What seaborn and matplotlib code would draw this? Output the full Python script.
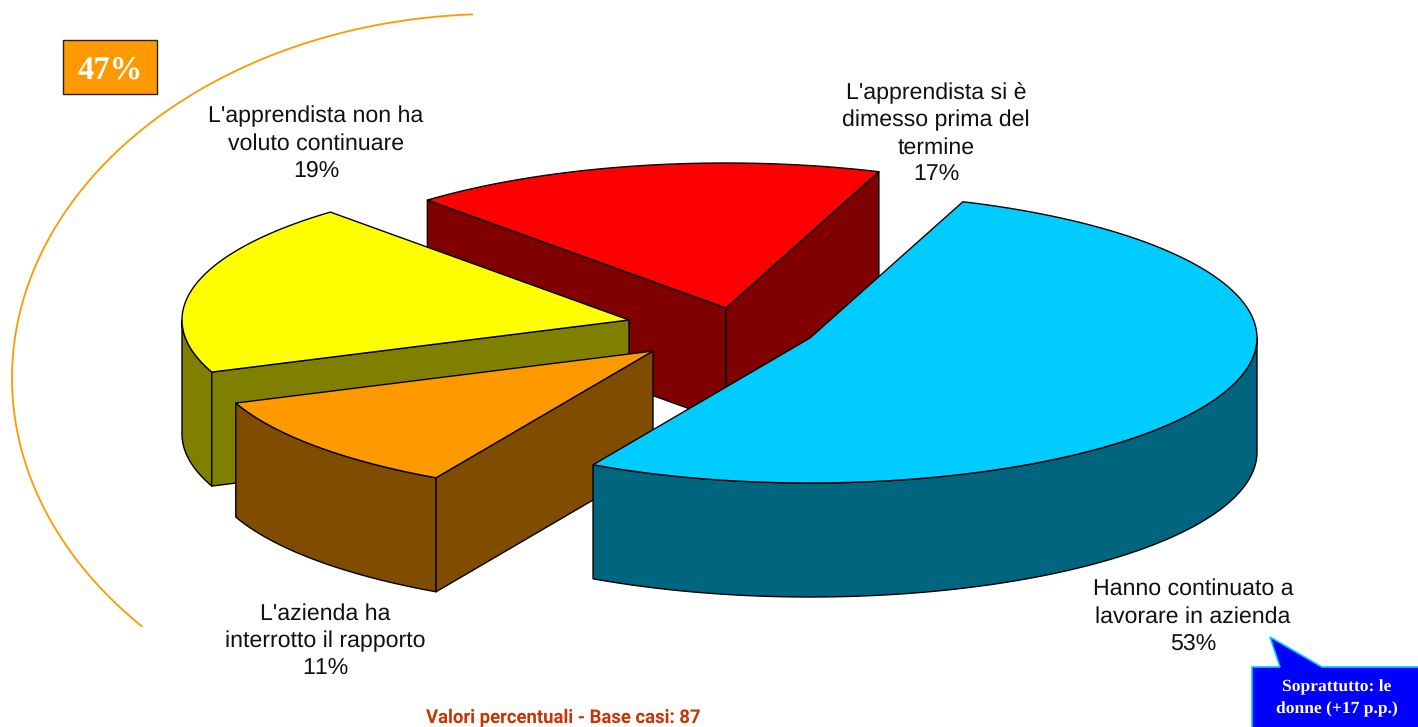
import numpy as np
import matplotlib
matplotlib.use("Agg")
import matplotlib.pyplot as plt
from matplotlib.colors import to_rgb
import seaborn as sns

# --- data ---
categories = ["Hanno continuato a\nlavorare in azienda",
              "L'azienda ha\ninterrotto il rapporto",
              "L'apprendista non ha\nvoluto continuare",
              "L'apprendista si è\ndimesso prima del\ntermine"]
shares = [52.51, 11.09, 19.2, 17.2]
group_label = "47%"
callout_text = "Soprattutto: le\ndonne (+17 p.p.)"
footnote = "Valori percentuali - Base casi: 87"

# --- style / layout ---
top_colors = ["#00CCFF", "#FF9900", "#FFFF00", "#FF0000"]
explode_px = [(90, 8), (-67, 21), (-91, -10), (6, -22)]
label_xy = [(1193, 616.5), (325, 641.5), (316, 143.5), (936, 134)]
draw_order = [3, 2, 1, 0]
START_DEG = 70
CX, CY, RX, RY, DEPTH = 720, 330, 447, 145, 114
LW = 1.0

sns.set_theme(style="white")
plt.rcParams["font.family"] = ["Liberation Sans", "DejaVu Sans"]
plt.rcParams["text.kerning_factor"] = 6
plt.rcParams["text.hinting"] = "none"

fig = plt.figure(figsize=(14.18, 7.27), dpi=100, facecolor="white")
ax = fig.add_axes([0, 0, 1, 1])
ax.set_xlim(0, 1418)
ax.set_ylim(727, 0)
ax.axis("off")

ends = START_DEG - np.cumsum(shares) * 3.6
starts = np.r_[START_DEG, ends[:-1]]


def rim(ax0, ay0, a, b, n=120):
    t = np.radians(np.linspace(a, b, n))
    return ax0 + RX * np.cos(t), ay0 - RY * np.sin(t)


for i in draw_order:
    a0, a1 = starts[i], ends[i]
    ox, oy = CX + explode_px[i][0], CY + explode_px[i][1]
    top = to_rgb(top_colors[i])
    side = tuple(c * 0.5 for c in top)

    # outer wall: only the part of the rim facing the viewer
    lo = a1
    hi = a0
    for k in range(-1, 1):
        # front half of the ellipse: angle between 360k-180 and 360k
        l, h = max(lo, 360 * k - 180), min(hi, 360 * k)
        if h > l:
            x, y = rim(ox, oy, l, h)
            ax.fill(np.r_[x, x[::-1]], np.r_[y, y[::-1] + DEPTH],
                    facecolor=side, edgecolor="black", lw=LW, joinstyle="round")

    # radial walls, kept when their outward normal points down the screen
    xm, ym = rim(ox, oy, (a0 + a1) / 2, (a0 + a1) / 2, 1)
    for ang in (a0, a1):
        xp, yp = rim(ox, oy, ang, ang, 1)
        nx, ny = -(yp[0] - oy), xp[0] - ox
        if nx * (xm[0] - ox) + ny * (ym[0] - oy) > 0:
            nx, ny = -nx, -ny
        if ny > 0:
            ax.fill([ox, xp[0], xp[0], ox], [oy, yp[0], yp[0] + DEPTH, oy + DEPTH],
                    facecolor=side, edgecolor="black", lw=LW, joinstyle="round")

    # top face
    x, y = rim(ox, oy, a0, a1)
    ax.fill(np.r_[ox, x], np.r_[oy, y], facecolor=top, edgecolor="black",
            lw=LW, joinstyle="round")

# slice labels
for cat, val, (lx, ly) in zip(categories, shares, label_xy):
    ax.text(lx, ly, f"{cat}\n{round(val)}%", ha="center", va="center",
            fontsize=16.7, color="#111111", linespacing=1.35)

# curved bracket for the non-continuing group
t = np.radians(np.linspace(267.3, 137.0, 300))
ax.plot(495 + 483 * np.cos(t), 378 + 364 * np.sin(t), color="#FF9900", lw=1.3)

# 47% box
ax.fill([63, 157, 157, 63], [40, 40, 94, 94], facecolor="#FF9900",
        edgecolor="#222222", lw=1.0)
ax.text(110, 72, group_label, ha="center", va="center", color="white",
        fontsize=23.5, fontweight="bold", family="Liberation Serif")

# callout
ax.fill([1252, 1280, 1270, 1322, 1420, 1420, 1252],
        [667, 667, 637, 667, 667, 730, 730],
        facecolor="#0000FF", edgecolor="#00CCFF", lw=1.2)
ax.text(1337, 698.5, callout_text, ha="center", va="center", color="white",
        fontsize=12.6, fontweight="bold", family="Liberation Serif", linespacing=1.55)

# footnote
ax.text(563.5, 718, footnote, ha="center", va="center", color="#CC3300",
        fontsize=13.35, fontweight="bold", family=["Roboto", "Liberation Sans"])

sns.despine(ax=ax, left=True, bottom=True)
fig.savefig("out.png", dpi=100, facecolor="white")
